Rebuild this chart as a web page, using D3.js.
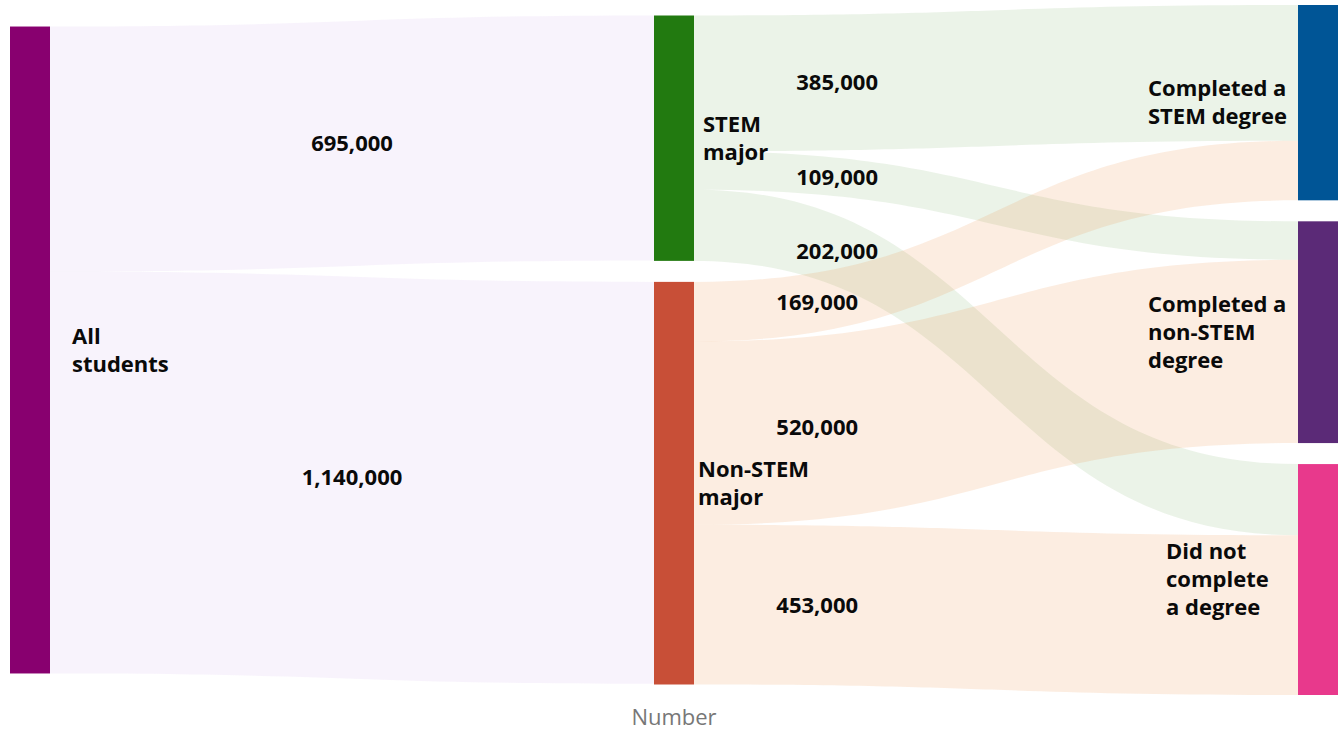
<!DOCTYPE html>
<html>
<head>
<meta charset="utf-8">
<script src="https://cdn.jsdelivr.net/npm/d3@7"></script>
<style>
  body { margin: 0; background: #fff; }
  svg text { font-family: "Open Sans", "Noto Sans", sans-serif; }
</style>
</head>
<body>
<script>
// node data
const nodeNames = ['All students', 'STEM major', 'Non-STEM major',
    'Completed a STEM degree', 'Completed a non-STEM degree', 'Did not complete a degree'];
const nodeLines = [['All', 'students'], ['STEM', 'major'], ['Non-STEM', 'major'],
    ['Completed a', 'STEM degree'], ['Completed a', 'non-STEM', 'degree'], ['Did not', 'complete', 'a degree']];
const nodeColumn = [0, 1, 1, 2, 2, 2];
const nodeColors = ['#88006f', '#227a10', '#c84f37', '#005596', '#5b2a77', '#e8398c'];

// link data (thousands of students)
const linkSource = [0, 0, 1, 1, 1, 2, 2, 2];
const linkTarget = [1, 2, 3, 4, 5, 3, 4, 5];
const linkValue = [695, 1140, 385, 109, 202, 169, 520, 453];

const axisTitle = 'Number';

// layout
const width = 1340, height = 730;
const plotTop = 5, plotBottom = 695, nodeW = 40, pad = 21;
const linkFill = ['rgba(185,135,225,0.1)', 'rgba(55,135,25,0.1)', 'rgba(235,135,55,0.15)'];
const labelDx = [22, 9, 4, -150, -150, -132];
const linkLabelFrac = [0.5, 0.237, 0.204];

let svg = d3.select('body').append('svg')
    .attr('width', width)
    .attr('height', height);

let x = d3.scaleLinear().domain([0, 2]).range([10, 1298]);

let nodes = nodeNames.map((name, i) => ({
    i, name, col: nodeColumn[i], inV: 0, outV: 0, inLinks: [], outLinks: []
}));
let links = linkValue.map((v, i) => ({
    source: nodes[linkSource[i]], target: nodes[linkTarget[i]], value: v
}));
links.forEach(l => {
    l.source.outV += l.value; l.source.outLinks.push(l);
    l.target.inV += l.value; l.target.inLinks.push(l);
});
nodes.forEach(n => n.value = Math.max(n.inV, n.outV));

let columns = d3.groups(nodes, d => d.col).map(d => d[1]);
let ky = d3.min(columns, c => (plotBottom - plotTop - (c.length - 1) * pad) / d3.sum(c, n => n.value));
let y = d3.scaleLinear().domain([0, 1]).range([0, ky]);

columns.forEach(c => {
    let total = y(d3.sum(c, n => n.value)) + (c.length - 1) * pad;
    let y0 = plotTop + (plotBottom - plotTop - total) / 2;
    c.forEach(n => {
        n.x0 = x(n.col); n.x1 = n.x0 + nodeW;
        n.y0 = y0; n.y1 = y0 + y(n.value);
        y0 = n.y1 + pad;
    });
});

// stack links inside nodes
nodes.forEach(n => {
    let sy = n.y0;
    n.outLinks.sort((a, b) => a.target.y0 - b.target.y0).forEach(l => {
        l.sy0 = sy; sy += y(l.value); l.sy1 = sy;
    });
    let ty = n.y0;
    n.inLinks.sort((a, b) => a.source.y0 - b.source.y0).forEach(l => {
        l.ty0 = ty; ty += y(l.value); l.ty1 = ty;
    });
});

function linkPath(l) {
    let x0 = l.source.x1, x1 = l.target.x0, xm = (x0 + x1) / 2;
    return 'M' + x0 + ',' + l.sy0 +
        'C' + xm + ',' + l.sy0 + ' ' + xm + ',' + l.ty0 + ' ' + x1 + ',' + l.ty0 +
        'L' + x1 + ',' + l.ty1 +
        'C' + xm + ',' + l.ty1 + ' ' + xm + ',' + l.sy1 + ' ' + x0 + ',' + l.sy1 + 'Z';
}

// point on the link centre line at a given x fraction
function linkPoint(l, f) {
    let lo = 0, hi = 1, t;
    for (let k = 0; k < 40; k++) {
        t = (lo + hi) / 2;
        let fx = 1.5 * t - 1.5 * t * t + t * t * t;
        if (fx < f) lo = t; else hi = t;
    }
    let x0 = l.source.x1, x1 = l.target.x0;
    let c0 = (l.sy0 + l.sy1) / 2, c1 = (l.ty0 + l.ty1) / 2;
    return [x0 + (x1 - x0) * f, c0 + (c1 - c0) * (3 * t * t - 2 * t * t * t)];
}

svg.append('g').selectAll('path').data(links).join('path')
    .attr('d', linkPath)
    .attr('fill', d => linkFill[d.source.i]);

svg.append('g').selectAll('rect').data(nodes).join('rect')
    .attr('x', d => d.x0)
    .attr('y', d => d.y0)
    .attr('width', nodeW)
    .attr('height', d => d.y1 - d.y0)
    .attr('fill', d => nodeColors[d.i]);

// link labels
svg.append('g').selectAll('text').data(links).join('text')
    .each(function (d) {
        let p = linkPoint(d, linkLabelFrac[d.source.i]);
        d3.select(this).attr('x', p[0]).attr('y', p[1]);
    })
    .attr('text-anchor', 'middle')
    .attr('dy', '0.35em')
    .style('font-size', '22px')
    .style('font-weight', 'bold')
    .attr('fill', '#0a0a0a')
    .text(d => d3.format(',')(d.value * 1000));

// node labels
let lineH = 28;
svg.append('g').selectAll('text').data(nodes).join('text')
    .attr('x', d => (labelDx[d.i] > 0 ? d.x1 : d.x0) + labelDx[d.i])
    .attr('y', d => (d.y0 + d.y1) / 2 - (nodeLines[d.i].length - 1) * lineH / 2)
    .style('font-size', '22px')
    .style('font-weight', 'bold')
    .attr('fill', '#0a0a0a')
    .each(function (d) {
        let t = d3.select(this);
        nodeLines[d.i].forEach((s, k) => {
            t.append('tspan')
                .attr('x', t.attr('x'))
                .attr('y', +t.attr('y') + k * lineH)
                .attr('dy', '0.35em')
                .text(s);
        });
    });

svg.append('text')
    .attr('x', (x(0) + x(2) + nodeW) / 2)
    .attr('y', 725)
    .attr('text-anchor', 'middle')
    .style('font-size', '22px')
    .attr('fill', '#777')
    .text(axisTitle);
</script>
</body>
</html>
